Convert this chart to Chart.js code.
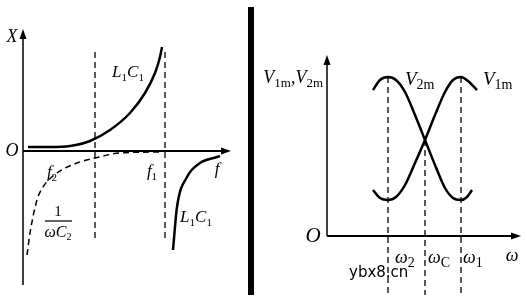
<!DOCTYPE html>
<html>
<head>
<meta charset="utf-8">
<script src="https://cdn.jsdelivr.net/npm/chart.js@4.4.0/dist/chart.umd.min.js"></script>
<style>
  body { margin: 0; background: #fff; width: 527px; height: 303px; overflow: hidden; position: relative; }
  #left { position: absolute; left: 0; top: 0; }
  #right { position: absolute; left: 255px; top: 0; }
  #bar { position: absolute; left: 248px; top: 7px; width: 6px; height: 288px; background: #000; }
</style>
</head>
<body>
<canvas id="left" width="248" height="303"></canvas>
<div id="bar"></div>
<canvas id="right" width="272" height="303"></canvas>
<script>
// ---- left panel: reactance X against f ----
const upperLcX = [0.25, 1.35, 2.35, 3.35, 4.35, 5.35, 6.1, 6.6, 6.85, 6.95];
const upperLcY = [0.2, 0.2, 0.25, 0.5, 1.05, 1.9, 2.9, 3.9, 4.7, 5.2];
const lowerLcX = [7.5, 7.7, 8.2, 8.85, 9.7, 9.85];
const lowerLcY = [-4.95, -2.8, -1.3, -0.6, -0.3, -0.25];
const capX = [0.2, 0.35, 0.7, 1.0, 1.7, 2.7, 3.6, 4.85, 6.85];
const capY = [-5.2, -4.1, -2.45, -1.8, -1.1, -0.6, -0.35, -0.1, -0.05];
const leftMarks = [3.6, 7.1];          // dashed verticals
const leftLabels = [
  { x: -0.55, y: 5.7, t: 'X', size: 18 },
  { x: -0.55, y: 0, t: 'O', size: 18 },
  { x: 5.25, y: 3.9, t: 'L{1}C{1}', size: 17 },
  { x: 1.45, y: -1.1, t: 'f{2}', size: 17 },
  { x: 6.45, y: -1.05, t: 'f{1}', size: 17 },
  { x: 9.7, y: -0.95, t: 'f', size: 17 },
  { x: 8.65, y: -3.35, t: 'L{1}C{1}', size: 17 },
  { x: 1.75, y: -3.05, t: '1', size: 15, upright: true },
  { x: 1.75, y: -4.1, t: 'ωC{2}', size: 16 }
];

// ---- right panel: V1m, V2m against omega ----
const v2mX = [4.6, 5.3, 6.1, 6.9, 7.8, 8.8, 9.8, 10.8, 11.8, 12.6, 13.4, 14.0, 14.5];
const v2mY = [14.6, 15.6, 15.9, 15.6, 14.4, 12.1, 9.6, 7.1, 4.8, 3.8, 3.6, 3.9, 4.6];
const v1mX = [4.6, 5.3, 6.1, 6.9, 7.8, 8.8, 9.8, 10.8, 11.8, 12.6, 13.4, 14.1, 15.0];
const v1mY = [4.6, 3.8, 3.6, 3.9, 5.1, 7.3, 9.6, 12.1, 14.4, 15.6, 15.9, 15.5, 14.6];
const rightMarksX = [6.1, 9.8, 13.4];   // omega2, omegaC, omega1
const rightMarksTop = [15.9, 9.6, 15.9];
const rightLabels = [
  { x: -0.4, y: 15.8, t: 'V{1m},V{2m}', size: 18, sub: 0.72, align: 'right' },
  { x: 7.8, y: 15.6, t: 'V{2m}', size: 19, sub: 0.72, align: 'left' },
  { x: 15.6, y: 15.6, t: 'V{1m}', size: 19, sub: 0.72, align: 'left' },
  { x: -1.4, y: 0, t: 'O', size: 21 },
  { x: 6.8, y: -2.2, t: 'ω{2}', size: 18, sub: 0.75, align: 'left' },
  { x: 10.1, y: -2.2, t: 'ω{C}', size: 18, sub: 0.75, align: 'left' },
  { x: 13.6, y: -2.2, t: 'ω{1}', size: 18, sub: 0.75, align: 'left' },
  { x: 18.5, y: -2.0, t: 'ω', size: 18 },
  { x: 2.2, y: -3.7, t: 'ybx8.cn', size: 15, align: 'left', plain: true }
];

function pts(xs, ys) { return xs.map((x, i) => ({ x: x, y: ys[i] })); }

function curve(data, width, dash) {
  return { data: data, borderColor: '#000', borderWidth: width, borderDash: dash || [],
           pointRadius: 0, fill: false, cubicInterpolationMode: 'monotone' };
}
function straight(data, width, dash) {
  return { data: data, borderColor: '#000', borderWidth: width, borderDash: dash || [],
           pointRadius: 0, fill: false, tension: 0 };
}

function drawLabel(ctx, px, py, lab) {
  let main = 'italic ' + lab.size + 'px "Liberation Serif"';
  if (lab.plain) main = lab.size + 'px "DejaVu Sans"';
  if (lab.upright) main = lab.size + 'px "Liberation Serif"';
  const sub = Math.round(lab.size * (lab.sub || 0.65)) + 'px "Liberation Serif"';
  const parts = lab.t.split(/(\{[^}]*\})/).filter(s => s.length);
  let total = 0;
  const segs = parts.map(p => {
    const isSub = p[0] === '{';
    const txt = isSub ? p.slice(1, -1) : p;
    ctx.font = isSub ? sub : main;
    const w = ctx.measureText(txt).width;
    total += w;
    return { txt, isSub, w };
  });
  let x = px;
  if (lab.align === 'right') x = px - total;
  else if (lab.align !== 'left') x = px - total / 2;
  ctx.fillStyle = '#000';
  ctx.textBaseline = 'middle';
  ctx.textAlign = 'left';
  segs.forEach(s => {
    ctx.font = s.isSub ? sub : main;
    ctx.fillText(s.txt, x, s.isSub ? py + lab.size * 0.3 : py);
    x += s.w;
  });
}

function arrowAxes(axes, labels) {
  return {
    id: 'arrowAxes',
    afterDatasetsDraw(chart) {
      const ctx = chart.ctx, xs = chart.scales.x, ys = chart.scales.y;
      ctx.save();
      ctx.strokeStyle = '#000';
      ctx.fillStyle = '#000';
      axes.forEach(a => {
        const x0 = xs.getPixelForValue(a.from[0]), y0 = ys.getPixelForValue(a.from[1]);
        const x1 = xs.getPixelForValue(a.to[0]), y1 = ys.getPixelForValue(a.to[1]);
        ctx.lineWidth = a.width;
        ctx.beginPath(); ctx.moveTo(x0, y0); ctx.lineTo(x1, y1); ctx.stroke();
        const ang = Math.atan2(y1 - y0, x1 - x0);
        ctx.beginPath();
        ctx.moveTo(x1 + 4 * Math.cos(ang), y1 + 4 * Math.sin(ang));
        ctx.lineTo(x1 - 6 * Math.cos(ang) - 3.5 * Math.sin(ang), y1 - 6 * Math.sin(ang) + 3.5 * Math.cos(ang));
        ctx.lineTo(x1 - 6 * Math.cos(ang) + 3.5 * Math.sin(ang), y1 - 6 * Math.sin(ang) - 3.5 * Math.cos(ang));
        ctx.closePath(); ctx.fill();
      });
      labels.forEach(l => drawLabel(ctx, xs.getPixelForValue(l.x), ys.getPixelForValue(l.y), l));
      ctx.restore();
    }
  };
}

function baseOptions(xmin, xmax, ymin, ymax) {
  return {
    responsive: false, animation: false,
    layout: { padding: 0 },
    plugins: { legend: { display: false }, tooltip: { enabled: false } },
    scales: {
      x: { type: 'linear', min: xmin, max: xmax, display: false },
      y: { type: 'linear', min: ymin, max: ymax, display: false }
    }
  };
}

const leftSets = [
  curve(pts(upperLcX, upperLcY), 2.5),
  curve(pts(lowerLcX, lowerLcY), 2.5),
  curve(pts(capX, capY), 1.5, [6, 4]),
  straight([{ x: 1.1, y: -3.5 }, { x: 2.45, y: -3.5 }], 1.2)
];
leftMarks.forEach(m => leftSets.push(straight([{ x: m, y: 4.95 }, { x: m, y: -4.45 }], 1.3, [6, 4])));

new Chart(document.getElementById('left'), {
  type: 'line',
  data: { datasets: leftSets },
  options: baseOptions(-1.15, 11.25, -7.6, 7.55),
  plugins: [arrowAxes([
    { from: [0, -6.7], to: [0, 5.9], width: 1.5 },
    { from: [0, 0], to: [10.2, 0], width: 2 }
  ], leftLabels)]
});

const rightSets = [
  curve(pts(v2mX, v2mY), 2.5),
  curve(pts(v1mX, v1mY), 2.5)
];
rightMarksX.forEach((m, i) => rightSets.push(straight([{ x: m, y: rightMarksTop[i] }, { x: m, y: -5.9 }], 1.3, [6, 4])));

new Chart(document.getElementById('right'), {
  type: 'line',
  data: { datasets: rightSets },
  options: baseOptions(-7.2, 20.0, -6.7, 23.6),
  plugins: [arrowAxes([
    { from: [0, 0], to: [0, 17.7], width: 1.5 },
    { from: [0, 0], to: [19.0, 0], width: 2 }
  ], rightLabels)]
});
</script>
</body>
</html>
